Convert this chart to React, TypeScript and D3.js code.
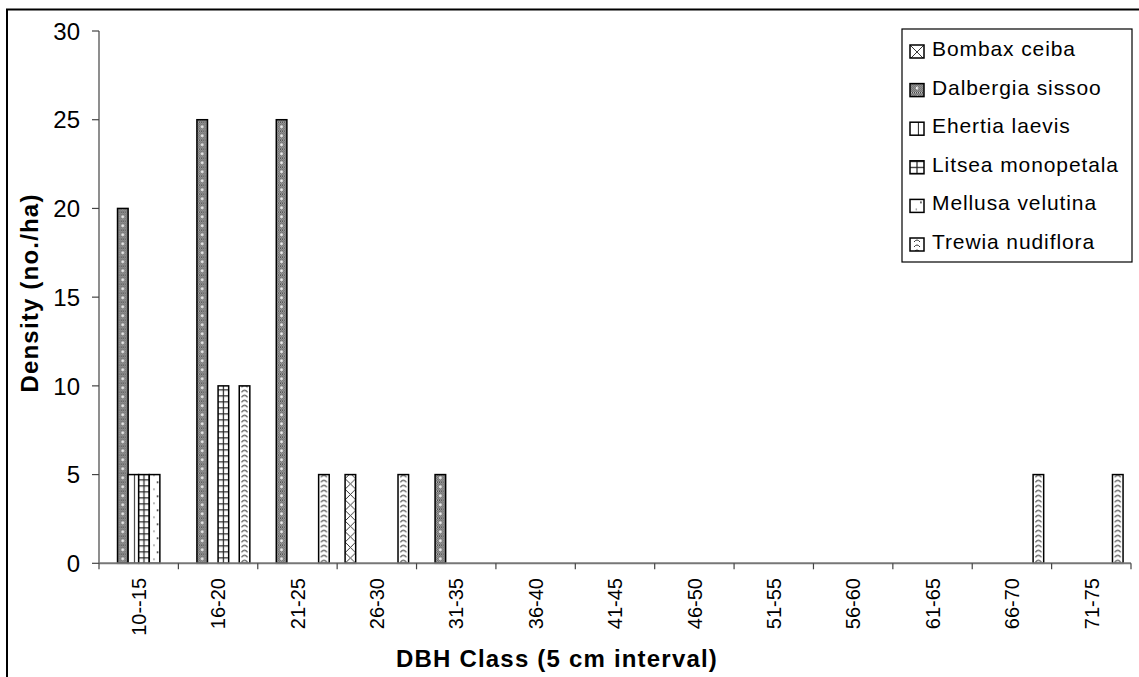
import React from "react";
import * as d3 from "d3";

const categories = ["10--15", "16-20", "21-25", "26-30", "31-35", "36-40", "41-45", "46-50", "51-55", "56-60", "61-65", "66-70", "71-75"];
const seriesNames = ["Bombax ceiba", "Dalbergia sissoo", "Ehertia laevis", "Litsea monopetala", "Mellusa velutina", "Trewia nudiflora"];
const bombax = [0, 0, 0, 5, 0, 0, 0, 0, 0, 0, 0, 0, 0];
const dalbergia = [20, 25, 25, 0, 5, 0, 0, 0, 0, 0, 0, 0, 0];
const ehertia = [5, 0, 0, 0, 0, 0, 0, 0, 0, 0, 0, 0, 0];
const litsea = [5, 10, 0, 0, 0, 0, 0, 0, 0, 0, 0, 0, 0];
const mellusa = [5, 0, 0, 0, 0, 0, 0, 0, 0, 0, 0, 0, 0];
const trewia = [0, 10, 5, 5, 0, 0, 0, 0, 0, 0, 0, 5, 5];
const seriesValues = [bombax, dalbergia, ehertia, litsea, mellusa, trewia];
const yTicks = [0, 5, 10, 15, 20, 25, 30];

const W = 1139;
const H = 677;
const FONT = "'Liberation Sans', Arial, Helvetica, sans-serif";

function tileFor(s: number, w: number): { h: number; content: React.ReactNode } {
  const ink = "#222";
  switch (s) {
    case 0:
      return {
        h: w,
        content: (
          <>
            <rect width={w} height={w} fill="#fff" />
            <line x1={0} y1={0} x2={w} y2={w} stroke={ink} strokeWidth={0.9} />
            <line x1={w} y1={0} x2={0} y2={w} stroke={ink} strokeWidth={0.9} />
          </>
        ),
      };
    case 1:
      return {
        h: 9,
        content: (
          <>
            <rect width={w} height={9} fill="url(#dither)" />
            <circle cx={w / 2} cy={4.5} r={1.2} fill="#fff" />
          </>
        ),
      };
    case 2:
      return {
        h: 10,
        content: (
          <>
            <rect width={w} height={10} fill="#fff" />
            <line x1={w * 0.6} y1={0} x2={w * 0.6} y2={10} stroke={ink} strokeWidth={1} />
          </>
        ),
      };
    case 3:
      return {
        h: 6,
        content: (
          <>
            <rect width={w} height={6} fill="#fff" />
            <line x1={0} y1={0.6} x2={w} y2={0.6} stroke={ink} strokeWidth={1.2} />
            <line x1={w / 2} y1={0} x2={w / 2} y2={6} stroke={ink} strokeWidth={1.2} />
          </>
        ),
      };
    case 4:
      return {
        h: 14,
        content: (
          <>
            <rect width={w} height={14} fill="#fff" />
            <circle cx={w * 0.78} cy={3} r={1} fill="#444" />
            <circle cx={w * 0.45} cy={10} r={0.8} fill="#666" />
          </>
        ),
      };
    default:
      return {
        h: 5,
        content: (
          <>
            <rect width={w} height={5} fill="#fff" />
            <path
              d={`M${w / 2 - 3},4 Q${w / 2},0 ${w / 2 + 3},4`}
              stroke="#333"
              strokeWidth={1}
              fill="none"
            />
          </>
        ),
      };
  }
}

export default function App() {
  const plotL = 99;
  const plotR = 1131;
  const plotT = 31;
  const plotB = 563.3;

  const x0 = d3.scaleBand<string>().domain(categories).range([plotL, plotR]).padding(0);
  const x1 = d3
    .scaleBand<string>()
    .domain(seriesNames)
    .range([0, x0.bandwidth()])
    .paddingInner(0)
    .paddingOuter(0.75);
  const y = d3.scaleLinear().domain([0, 30]).range([plotB, plotT]);
  const bw = x1.bandwidth();

  const bars: { id: string; s: number; x: number; y: number; w: number; h: number }[] = [];
  seriesValues.forEach((vals, s) => {
    vals.forEach((v, c) => {
      if (v > 0) {
        const bx = (x0(categories[c]) as number) + (x1(seriesNames[s]) as number);
        bars.push({ id: `p-${s}-${c}`, s, x: bx, y: y(v), w: bw, h: y(0) - y(v) });
      }
    });
  });

  const legX = 902;
  const legY = 29;
  const legW = 230;
  const legH = 233;
  const rowBase = (i: number) => 56 + i * 38.6;
  const swX = 910;
  const swW = 14;
  const swH = 13;

  const boundaries = [...categories.map((c) => x0(c) as number), plotR];

  return (
    <svg
      width={W}
      height={H}
      style={{ position: "absolute", left: 0, top: 0, background: "#fff" }}
      fontFamily={FONT}
    >
      <defs>
        <pattern id="dither" patternUnits="userSpaceOnUse" width={2} height={2}>
          <rect width={2} height={2} fill="#c4c4c4" />
          <rect x={0} y={0} width={1} height={1} fill="#444" />
          <rect x={1} y={1} width={1} height={1} fill="#444" />
        </pattern>
        {bars.map((b) => {
          const t = tileFor(b.s, b.w);
          return (
            <pattern
              key={b.id}
              id={b.id}
              patternUnits="userSpaceOnUse"
              x={b.x}
              y={plotB}
              width={b.w}
              height={t.h}
            >
              {t.content}
            </pattern>
          );
        })}
        {seriesNames.map((n, i) => {
          const t = tileFor(i, swW);
          return (
            <pattern
              key={"leg" + i}
              id={"leg" + i}
              patternUnits="userSpaceOnUse"
              x={swX}
              y={rowBase(i) - 11}
              width={swW}
              height={t.h}
            >
              {t.content}
            </pattern>
          );
        })}
      </defs>

      <rect x={0} y={0} width={W} height={H} fill="#fff" />
      <rect x={7} y={9.5} width={1300} height={800} fill="#fff" stroke="#000" strokeWidth={2} />

      {/* bars */}
      {bars.map((b) => (
        <rect
          key={"bar" + b.id}
          x={b.x}
          y={b.y}
          width={b.w}
          height={b.h}
          fill={`url(#${b.id})`}
          stroke="#000"
          strokeWidth={1.5}
        />
      ))}

      {/* y axis */}
      <line x1={plotL} y1={plotT} x2={plotL} y2={plotB} stroke="#444" strokeWidth={1.2} />
      {yTicks.map((t) => (
        <g key={"yt" + t}>
          <line x1={plotL - 7} y1={y(t)} x2={plotL} y2={y(t)} stroke="#444" strokeWidth={1.2} />
          <text x={80} y={y(t)} dy="0.36em" textAnchor="end" fontSize={24} fill="#000">
            {t}
          </text>
        </g>
      ))}

      {/* x axis */}
      <line x1={plotL} y1={plotB} x2={plotR} y2={plotB} stroke="#777" strokeWidth={2} />
      {boundaries.map((bx, i) => (
        <line key={"xt" + i} x1={bx} y1={plotB} x2={bx} y2={plotB + 6} stroke="#444" strokeWidth={1.2} />
      ))}
      {categories.map((c) => (
        <text
          key={"xl" + c}
          transform={`translate(${(x0(c) as number) + x0.bandwidth() / 2},578) rotate(-90)`}
          dy="0.36em"
          textAnchor="end"
          fontSize={20}
          fill="#000"
        >
          {c}
        </text>
      ))}

      {/* axis titles */}
      <text
        x={557}
        y={667}
        textAnchor="middle"
        fontSize={24}
        fontWeight="bold"
        letterSpacing={1.2}
        fill="#000"
      >
        DBH Class (5 cm interval)
      </text>
      <text
        transform="translate(38,293) rotate(-90)"
        textAnchor="middle"
        fontSize={24}
        fontWeight="bold"
        letterSpacing={1.2}
        fill="#000"
      >
        Density (no./ha)
      </text>

      {/* legend */}
      <rect x={legX} y={legY} width={legW} height={legH} fill="#fff" stroke="#000" strokeWidth={1.2} />
      {seriesNames.map((n, i) => (
        <g key={"lg" + i}>
          <rect
            x={swX}
            y={rowBase(i) - 11}
            width={swW}
            height={swH}
            fill={`url(#leg${i})`}
            stroke="#000"
            strokeWidth={1.5}
          />
          <text x={932} y={rowBase(i)} fontSize={21} letterSpacing={0.9} fill="#000">
            {n}
          </text>
        </g>
      ))}
    </svg>
  );
}
